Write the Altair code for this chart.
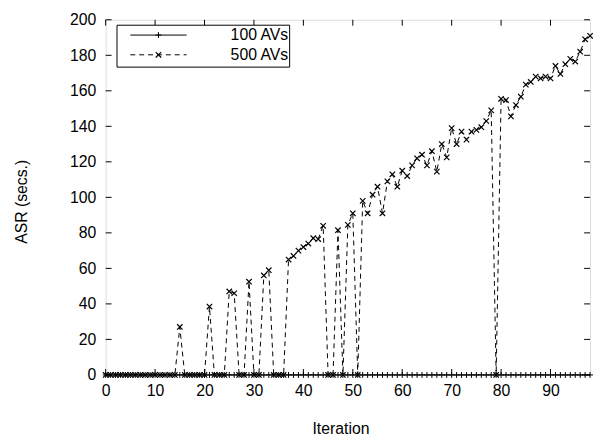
import altair as alt
import pandas as pd

series_names = ["100 AVs", "500 AVs"]

iterations = list(range(0, 99))

asr_100 = [
    0, 0, 0, 0, 0, 0, 0, 0, 0, 0,
    0, 0, 0, 0, 0, 0, 0, 0, 0, 0,
    0, 0, 0, 0, 0, 0, 0, 0, 0, 0,
    0, 0, 0, 0, 0, 0, 0, 0, 0, 0,
    0, 0, 0, 0, 0, 0, 0, 0, 0, 0,
    0, 0, 0, 0, 0, 0, 0, 0, 0, 0,
    0, 0, 0, 0, 0, 0, 0, 0, 0, 0,
    0, 0, 0, 0, 0, 0, 0, 0, 0, 0,
    0, 0, 0, 0, 0, 0, 0, 0, 0, 0,
    0, 0, 0, 0, 0, 0, 0, 0, 0,
]

asr_500 = [
    0, 0, 0, 0, 0, 0, 0, 0, 0, 0,          # 0-9
    0, 0, 0, 0, 0, 27, 0, 0, 0, 0,         # 10-19
    0, 38.5, 0, 0, 0, 47, 46, 0, 0, 52.5,  # 20-29
    0, 0, 56, 59, 0, 0, 0, 65, 67, 70,     # 30-39
    72, 74, 77, 76.5, 84, 0, 0, 81.5, 0, 84.5,   # 40-49
    91, 0, 98, 91, 101.5, 106, 91, 109, 113, 106,  # 50-59
    115, 112, 118, 122, 124, 118, 126, 114.5, 130, 122.5,  # 60-69
    139, 130, 137, 132.5, 137, 138, 139.5, 143, 149, 0,   # 70-79
    155.5, 154.8, 145.6, 152, 156.7, 163.5, 165, 168, 167, 168,  # 80-89
    167, 174, 169.5, 175, 178, 176.5, 182, 189, 191,  # 90-98
]

x_ticks = [0, 10, 20, 30, 40, 50, 60, 70, 80, 90]
y_ticks = [0, 20, 40, 60, 80, 100, 120, 140, 160, 180, 200]

W, H = 491, 360
FONT = "Liberation Sans"

df100 = pd.DataFrame({"iter": iterations, "asr": asr_100})
df500 = pd.DataFrame({"iter": iterations, "asr": asr_500})

xscale = alt.Scale(domain=[0, 98], nice=False, zero=False)
yscale = alt.Scale(domain=[0, 200], nice=False)

PLUS = "M-1,0L1,0M0,-1L0,1"
CROSS = "M-1,-1L1,1M-1,1L1,-1"

x_axis = alt.Axis(title="Iteration", values=x_ticks, ticks=False, domain=False,
                  grid=False, labelPadding=8, labelFontSize=16, labelFont=FONT,
                  labelColor="black", titleFont=FONT, titleFontSize=16,
                  titleFontWeight="normal", titleColor="black",
                  titleX=238, titleY=54, titleBaseline="middle",
                  titleAlign="center", labelFlush=False)
y_axis = alt.Axis(title="ASR (secs.)", values=y_ticks, ticks=False, domain=False,
                  grid=False, labelPadding=10, labelFontSize=16, labelFont=FONT,
                  labelColor="black", titleFont=FONT, titleFontSize=16,
                  titleFontWeight="normal", titleColor="black",
                  titleX=-85, titleY=184, titleBaseline="middle",
                  titleAlign="center", titleAngle=270, labelFlush=False)

x_enc = alt.X("iter:Q", scale=xscale, axis=x_axis)
y_enc = alt.Y("asr:Q", scale=yscale, axis=y_axis)

line100 = alt.Chart(df100).mark_line(color="black", strokeWidth=1, clip=False).encode(
    x=x_enc, y=y_enc)
pts100 = alt.Chart(df100).mark_point(shape=PLUS, size=36, filled=False, color="black",
                                     strokeWidth=1, opacity=1, clip=False).encode(
    x=x_enc, y=y_enc)
line500 = alt.Chart(df500).mark_line(color="black", strokeWidth=1, strokeDash=[5, 4],
                                     clip=False).encode(x=x_enc, y=y_enc)
pts500 = alt.Chart(df500).mark_point(shape=CROSS, size=30, filled=False, color="black",
                                     strokeWidth=1.2, opacity=1, clip=False).encode(
    x=x_enc, y=y_enc)

xt = pd.DataFrame({"iter": x_ticks})
yt = pd.DataFrame({"asr": y_ticks})
tick_bottom = alt.Chart(xt).mark_rule(color="black", strokeWidth=1).encode(
    x=x_enc, y=alt.value(H), y2=alt.value(H - 6))
tick_top = alt.Chart(xt).mark_rule(color="black", strokeWidth=1).encode(
    x=x_enc, y=alt.value(0), y2=alt.value(6))
tick_left = alt.Chart(yt).mark_rule(color="black", strokeWidth=1).encode(
    y=y_enc, x=alt.value(0), x2=alt.value(6))
tick_right = alt.Chart(yt).mark_rule(color="black", strokeWidth=1).encode(
    y=y_enc, x=alt.value(W), x2=alt.value(W - 6))

# legend (hand-drawn, gnuplot style)
leg_df0 = pd.DataFrame({"name": [series_names[0]]})
leg_df1 = pd.DataFrame({"name": [series_names[1]]})
leg_box = alt.Chart(leg_df0).mark_rect(fill="white", stroke="black", strokeWidth=1).encode(
    x=alt.value(11.5), x2=alt.value(186.5), y=alt.value(5.5), y2=alt.value(48))
leg_l0 = alt.Chart(leg_df0).mark_rule(color="black", strokeWidth=1).encode(
    x=alt.value(25), x2=alt.value(82), y=alt.value(15.5))
leg_l1 = alt.Chart(leg_df1).mark_rule(color="black", strokeWidth=1, strokeDash=[5, 4]).encode(
    x=alt.value(25), x2=alt.value(82), y=alt.value(35.5))
leg_p0 = alt.Chart(leg_df0).mark_point(shape=PLUS, size=36, filled=False, color="black",
                                       strokeWidth=1, opacity=1).encode(
    x=alt.value(53.5), y=alt.value(15.5))
leg_p1 = alt.Chart(leg_df1).mark_point(shape=CROSS, size=30, filled=False, color="black",
                                       strokeWidth=1.2, opacity=1).encode(
    x=alt.value(53.5), y=alt.value(35.5))
leg_t0 = alt.Chart(leg_df0).mark_text(align="right", baseline="middle", font=FONT,
                                      fontSize=16, color="black").encode(
    text="name:N", x=alt.value(185), y=alt.value(16))
leg_t1 = alt.Chart(leg_df1).mark_text(align="right", baseline="middle", font=FONT,
                                      fontSize=16, color="black").encode(
    text="name:N", x=alt.value(185), y=alt.value(36))

chart = alt.layer(
    line100, pts100, line500, pts500,
    tick_bottom, tick_top, tick_left, tick_right,
    leg_box, leg_l0, leg_l1, leg_p0, leg_p1, leg_t0, leg_t1,
).properties(
    width=W, height=H,
    autosize=alt.AutoSizeParams(type="none"),
    padding={"left": 99, "top": 9, "right": 4, "bottom": 62},
).configure_view(
    stroke="black", strokeWidth=1
).configure(background="white")

chart.save("out.html", embed_options={"renderer": "svg", "actions": False})
